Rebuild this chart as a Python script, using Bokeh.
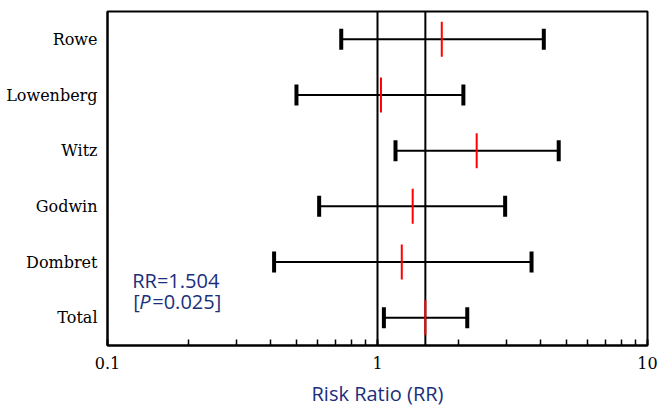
from bokeh.plotting import figure
from bokeh.models import Span, FixedTicker, Range1d, ColumnDataSource
from bokeh.embed import file_html
from bokeh.resources import INLINE
from bokeh.core.properties import value

studies = ["Rowe", "Lowenberg", "Witz", "Godwin", "Dombret", "Total"]
rr = [1.73, 1.03, 2.33, 1.35, 1.23, 1.504]
lower = [0.734, 0.501, 1.166, 0.608, 0.414, 1.056]
upper = [4.13, 2.08, 4.69, 2.97, 3.72, 2.15]
pooled_rr = 1.504
p_value = 0.025
null_value = 1
x_ticks = [0.1, 1, 10]
x_tick_labels = ["0.1", "1", "10"]
x_minor_ticks = [0.2, 0.3, 0.4, 0.5, 0.6, 0.7, 0.8, 0.9,
                 2, 3, 4, 5, 6, 7, 8, 9]

NAVY = "#1b2f7c"
n = len(studies)
ypos = [n - 1 - i for i in range(n)]

src = ColumnDataSource(dict(y=ypos, rr=rr, lo=lower, hi=upper))

p = figure(x_axis_type="log", x_range=Range1d(0.1, 10), y_range=Range1d(-0.5, n - 0.5),
           frame_width=540, frame_height=334,
           min_border_left=107, min_border_top=11, min_border_right=12, min_border_bottom=62,
           output_backend="svg", toolbar_location=None)
p.grid.visible = False
p.outline_line_color = "black"
p.outline_line_width = 2
p.outline_line_alpha = 1
p.background_fill_color = "white"
p.border_fill_color = "white"

# reference lines
p.add_layout(Span(location=null_value, dimension="height", line_color="black",
                  line_width=2, level="underlay"))
p.add_layout(Span(location=pooled_rr, dimension="height", line_color="black",
                  line_width=2, level="underlay"))

# CI lines
p.segment(x0="lo", y0="y", x1="hi", y1="y", source=src, line_color="black", line_width=2)
# caps
p.rect(x="lo", y="y", width=4, height=21, width_units="screen", height_units="screen",
       source=src, fill_color="black", line_color=None)
p.rect(x="hi", y="y", width=4, height=21, width_units="screen", height_units="screen",
       source=src, fill_color="black", line_color=None)
# point estimates
p.rect(x="rr", y="y", width=2, height=35, width_units="screen", height_units="screen",
       source=src, fill_color="#ff0000", line_color=None)

# annotation text
tx = 0.1235
common = dict(text_color=NAVY, text_font=value("Open Sans"), text_font_size="20px",
              text_align="left", text_baseline="alphabetic")
p.text(x=[tx], y=[0.665], text=[f"RR={pooled_rr}"], **common)
p.text(x=[tx], y=[0.285], text=["["], x_offset=1, **common)
p.text(x=[tx], y=[0.285], text=["P"], x_offset=7, text_font_style="italic", **common)
p.text(x=[tx], y=[0.285], text=[f"={p_value}]"], x_offset=20, **common)

# x axis
xa = p.xaxis[0]
xa.ticker = FixedTicker(ticks=x_ticks, minor_ticks=x_minor_ticks)
xa.major_label_overrides = {t: l for t, l in zip(x_ticks, x_tick_labels)}
xa.major_tick_in = 6
xa.major_tick_out = 0
xa.minor_tick_in = 6
xa.minor_tick_out = 0
xa.major_tick_line_width = 2
xa.minor_tick_line_width = 1.5
xa.axis_line_width = 2
xa.major_label_text_font = "DejaVu Serif"
xa.major_label_text_font_size = "16px"
xa.major_label_text_color = "black"
xa.major_label_standoff = 11
xa.axis_label = "Risk Ratio (RR)"
xa.axis_label_text_font = "Open Sans"
xa.axis_label_text_font_size = "20px"
xa.axis_label_text_font_style = "normal"
xa.axis_label_text_color = NAVY
xa.axis_label_standoff = 8

# y axis
ya = p.yaxis[0]
ya.ticker = FixedTicker(ticks=ypos)
ya.major_label_overrides = {y: s for y, s in zip(ypos, studies)}
ya.major_tick_line_color = None
ya.minor_tick_line_color = None
ya.major_tick_out = 0
ya.axis_line_width = 2
ya.major_label_text_font = "DejaVu Serif"
ya.major_label_text_font_size = "16px"
ya.major_label_text_color = "black"
ya.major_label_standoff = 10

open("out.html", "w").write(file_html(p, INLINE))
